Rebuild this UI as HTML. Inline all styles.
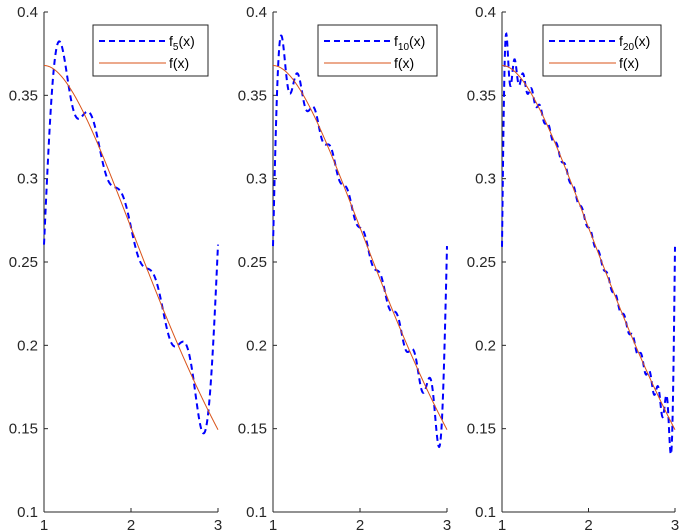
<!DOCTYPE html>
<html><head><meta charset="utf-8"><style>
html,body{margin:0;padding:0;background:#fff;}
svg{display:block;font-family:"Liberation Sans",sans-serif;}
</style></head><body>
<svg id="s" width="682" height="532" viewBox="0 0 682 532" xmlns="http://www.w3.org/2000/svg"></svg>
<script>
(function(){
const s=document.getElementById('s');
const NS="http://www.w3.org/2000/svg";
function el(t,a,txt){const e=document.createElementNS(NS,t);for(const k in a)e.setAttribute(k,a[k]);if(txt!==undefined)e.textContent=txt;s.appendChild(e);return e;}
const f=x=>x*Math.exp(-x);
function coeffs(N){const M=4000,h=2/M;const a=[],b=[];
 for(let k=0;k<=N;k++){let sa=0,sb=0;for(let i=0;i<=M;i++){const x=1+i*h;const w=(i==0||i==M)?1:(i%2?4:2);sa+=w*f(x)*Math.cos(k*Math.PI*x);sb+=w*f(x)*Math.sin(k*Math.PI*x);}a.push(sa*h/3);b.push(sb*h/3);}
 return x=>{let v=a[0]/2;for(let k=1;k<=N;k++)v+=a[k]*Math.cos(k*Math.PI*x)+b[k]*Math.sin(k*Math.PI*x);return v;};}
const yTop=12,yBot=512;
const Y=v=>yBot-(v-0.1)/0.3*(yBot-yTop);
const panels=[{x0:44,x1:218,N:5,sub:'5',lg:[93,208]},{x0:273,x1:447,N:10,sub:'10',lg:[318,437]},{x0:502,x1:675,N:20,sub:'20',lg:[543,661]}];
for(const p of panels){
 const X=x=>p.x0+(x-1)/2*(p.x1-p.x0);
 el('line',{x1:p.x0,y1:yTop,x2:p.x0,y2:yBot,stroke:'#262626','stroke-width':1});
 el('line',{x1:p.x0,y1:yBot,x2:p.x1,y2:yBot,stroke:'#262626','stroke-width':1});
 for(let i=0;i<=6;i++){const v=0.1+i*0.05,y=Y(v);
  el('line',{x1:p.x0,y1:y,x2:p.x0+4,y2:y,stroke:'#262626'});
  el('text',{x:p.x0-6,y:y+5,'text-anchor':'end','font-size':15,fill:'#262626'},(+v.toFixed(2)).toString());}
 for(let i=1;i<=3;i++){const x=X(i);
  el('line',{x1:x,y1:yBot,x2:x,y2:yBot-4,stroke:'#262626'});
  el('text',{x:x,y:yBot+18,'text-anchor':'middle','font-size':15,fill:'#262626'},i);}
 const g=coeffs(p.N);
 let d1='',d2='';
 for(let i=0;i<=600;i++){const x=1+2*i/600;d1+=(i?'L':'M')+X(x).toFixed(2)+','+Y(g(x)).toFixed(2);d2+=(i?'L':'M')+X(x).toFixed(2)+','+Y(f(x)).toFixed(2);}
 el('path',{d:d1,fill:'none',stroke:'#0000ff','stroke-width':2,'stroke-dasharray':'6,4'});
 el('path',{d:d2,fill:'none',stroke:'#D95319','stroke-width':1});
 const lx0=p.lg[0],lx1=p.lg[1];
 el('rect',{x:lx0,y:25,width:lx1-lx0,height:51,fill:'#fff',stroke:'#262626','stroke-width':1});
 el('line',{x1:lx0+6,y1:41,x2:lx0+73,y2:41,stroke:'#0000ff','stroke-width':2,'stroke-dasharray':'6,4'});
 el('line',{x1:lx0+6,y1:63,x2:lx0+73,y2:63,stroke:'#D95319','stroke-width':1});
 const t=el('text',{x:lx0+76,y:46,'font-size':14,fill:'#000'});
 t.appendChild(document.createTextNode('f'));
 const ts=document.createElementNS(NS,'tspan');ts.setAttribute('font-size','10');ts.setAttribute('dy','4');ts.textContent=p.sub;t.appendChild(ts);
 const t2=document.createElementNS(NS,'tspan');t2.setAttribute('dy','-4');t2.textContent='(x)';t.appendChild(t2);
 el('text',{x:lx0+76,y:68,'font-size':14,fill:'#000'},'f(x)');
}
})();
</script>
</body></html>
